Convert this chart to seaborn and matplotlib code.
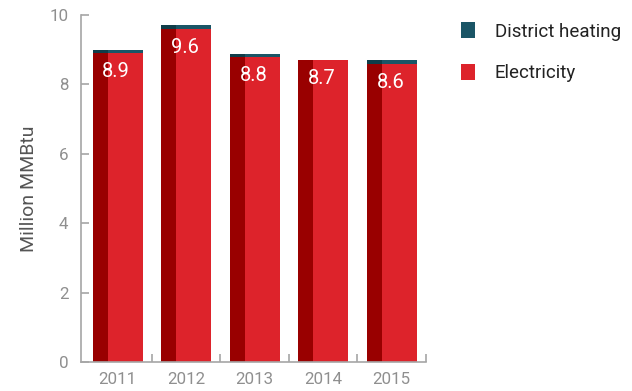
import matplotlib
matplotlib.use("Agg")
import matplotlib.pyplot as plt
from matplotlib.patches import Patch, Rectangle
import pandas as pd
import seaborn as sns

years = ["2011", "2012", "2013", "2014", "2015"]
electricity = [8.9, 9.6, 8.8, 8.7, 8.6]
district_heating = [0.1, 0.12, 0.08, 0.0, 0.09]
y_ticks = [0, 2, 4, 6, 8, 10]

RED = "#dd232b"
RED_DARK = "#990000"
TEAL = "#1a5566"
TEAL_DARK = "#0f3d49"
TICK_GREY = "#8f8f8f"
SPINE_GREY = "#a6a6a6"

sns.set_theme(style="white")
plt.rcParams["font.family"] = ["Roboto", "DejaVu Sans"]

df = pd.DataFrame({
    "year": years,
    "electricity": electricity,
    "total": [e + d for e, d in zip(electricity, district_heating)],
})

fig = plt.figure(figsize=(6.32, 3.91), dpi=100)
ax = fig.add_axes([81 / 632, 1 - 362 / 391, (426 - 81) / 632, (362 - 15) / 391])

BAR_W = 0.73
SHADE = 0.3


def shade_left(patches, color):
    # darker strip on the left side of each bar
    for p in patches:
        ax.add_patch(Rectangle((p.get_x(), p.get_y()), p.get_width() * SHADE,
                               p.get_height(), facecolor=color, edgecolor="none",
                               linewidth=0))


sns.barplot(data=df, x="year", y="total", color=TEAL, saturation=1,
            width=BAR_W, ax=ax, linewidth=0, edgecolor="none")
shade_left(list(ax.patches), TEAL_DARK)
n_before = len(ax.patches)
sns.barplot(data=df, x="year", y="electricity", color=RED, saturation=1,
            width=BAR_W, ax=ax, linewidth=0, edgecolor="none")
shade_left(list(ax.patches)[n_before:], RED_DARK)

for i, v in enumerate(electricity):
    ax.annotate(f"{v:.1f}", xy=(i, v), xytext=(-1, -13.5), textcoords="offset points",
                ha="center", va="center", color="white", fontsize=14.5)

ax.set_xlim(-0.534, 4.5)
ax.set_ylim(0, 10)
ax.set_yticks(y_ticks)
ax.set_xticks(range(len(years)))
ax.set_xticklabels(years)
ax.set_xticks([i + 0.5 for i in range(len(years))], minor=True)

ax.set_xlabel("")
ax.set_ylabel("Million MMBtu", fontsize=14, color="#555555", labelpad=8)

for side in ["top", "right"]:
    ax.spines[side].set_visible(False)
for side in ["left", "bottom"]:
    ax.spines[side].set_color(SPINE_GREY)
    ax.spines[side].set_linewidth(1.2)

ax.tick_params(axis="y", which="major", direction="in", length=6, width=1.2,
               color=SPINE_GREY, labelcolor=TICK_GREY, labelsize=12.2, pad=9, left=True)
ax.tick_params(axis="x", which="major", length=0, labelcolor=TICK_GREY,
               labelsize=12.2, pad=7)
ax.tick_params(axis="x", which="minor", direction="in", length=6, width=1.2,
               color=SPINE_GREY, bottom=True)

handles = [Patch(facecolor=TEAL, edgecolor="none", label="District heating"),
           Patch(facecolor=RED, edgecolor="none", label="Electricity")]
fig.legend(handles=handles, loc="upper left", bbox_to_anchor=(461 / 632, 1 - 22 / 391),
           frameon=False, fontsize=13.5, labelcolor="#222222",
           handlelength=0.74, handleheight=0.95, handletextpad=1.05,
           labelspacing=1.25, borderpad=0, borderaxespad=0)

fig.savefig("out.png", dpi=100)
